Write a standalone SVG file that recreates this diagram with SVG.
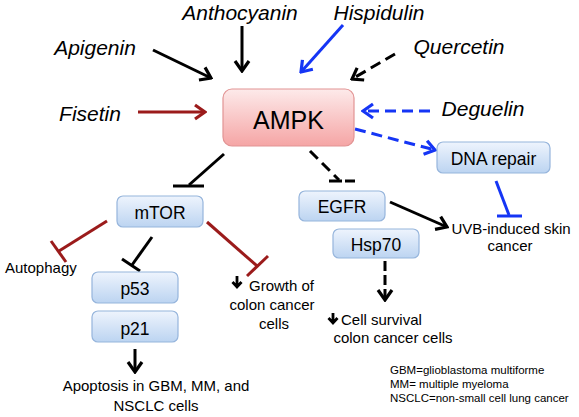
<svg xmlns="http://www.w3.org/2000/svg" width="579" height="417" viewBox="0 0 579 417">
<defs>
<linearGradient id="gBlue" x1="0" y1="0" x2="0" y2="1"><stop offset="0" stop-color="#eef4fd"/><stop offset="1" stop-color="#bcd4f1"/></linearGradient>
<linearGradient id="gPink" x1="0" y1="0" x2="0" y2="1"><stop offset="0" stop-color="#fdeaea"/><stop offset="1" stop-color="#f5a5a5"/></linearGradient>
<marker id="ahK" viewBox="0 0 14 18" refX="12" refY="9" markerWidth="14" markerHeight="18" markerUnits="userSpaceOnUse" orient="auto"><path d="M2,2 L12,9 L2,16" fill="none" stroke="#000" stroke-width="3.2"/></marker>
<marker id="ahR" viewBox="0 0 14 18" refX="12" refY="9" markerWidth="14" markerHeight="18" markerUnits="userSpaceOnUse" orient="auto"><path d="M2,2 L12,9 L2,16" fill="none" stroke="#9b1b1b" stroke-width="3.2"/></marker>
<marker id="ahB" viewBox="0 0 14 18" refX="12" refY="9" markerWidth="14" markerHeight="18" markerUnits="userSpaceOnUse" orient="auto"><path d="M2,2 L12,9 L2,16" fill="none" stroke="#1535f5" stroke-width="3.2"/></marker>
<style>
.lab{font-family:"Liberation Sans",Arial,sans-serif;font-style:italic;font-size:21px;fill:#000}
.bt{font-family:"Liberation Sans",Arial,sans-serif;font-size:17.5px;fill:#000;text-anchor:middle}
.sm{font-family:"Liberation Sans",Arial,sans-serif;font-size:15px;fill:#000}
.lg{font-family:"Liberation Sans",Arial,sans-serif;font-size:11.5px;fill:#000}
.bbox{fill:url(#gBlue);stroke:#96b5dc;stroke-width:1.2}
.pbox{fill:url(#gPink);stroke:#e29494;stroke-width:1.2}
.k{stroke:#000;stroke-width:3;fill:none}
.r{stroke:#9b1b1b;stroke-width:3;fill:none}
.b{stroke:#1535f5;stroke-width:3;fill:none}
.d{stroke-dasharray:11 6}
</style>
</defs>

<g id="labels">
<text class="lab" x="240" y="20" text-anchor="middle">Anthocyanin</text>
<text class="lab" x="379" y="20" text-anchor="middle">Hispidulin</text>
<text class="lab" x="95" y="55" text-anchor="middle">Apigenin</text>
<text class="lab" x="459" y="54" text-anchor="middle">Quercetin</text>
<text class="lab" x="90" y="121" text-anchor="middle">Fisetin</text>
<text class="lab" x="483" y="116" text-anchor="middle">Deguelin</text>
</g>

<g id="connectors">
<line class="k" x1="242" y1="26" x2="242" y2="71" marker-end="url(#ahK)"/>
<line class="k" x1="153" y1="50" x2="211" y2="78" marker-end="url(#ahK)"/>
<line class="r" x1="138" y1="112" x2="205" y2="112" marker-end="url(#ahR)"/>
<line class="b" x1="343" y1="25" x2="301" y2="72" marker-end="url(#ahB)"/>
<line class="k d" x1="395" y1="54" x2="352" y2="79" marker-end="url(#ahK)"/>
<line class="b d" x1="430" y1="111" x2="363" y2="111" marker-end="url(#ahB)"/>
<line class="b d" x1="355" y1="129" x2="435" y2="150" marker-end="url(#ahB)"/>
<line class="k" x1="224" y1="154" x2="189" y2="185"/>
<line class="k" x1="173" y1="186" x2="204" y2="186"/>
<line class="k d" x1="310" y1="151" x2="339" y2="180"/>
<line class="k" x1="329" y1="181" x2="355" y2="181" stroke-dasharray="13 3"/>
<line class="k" x1="390" y1="202" x2="447" y2="227" marker-end="url(#ahK)"/>
<line class="b" x1="496" y1="181" x2="509" y2="215"/>
<line class="b" x1="497" y1="216" x2="522" y2="216"/>
<line class="r" x1="107" y1="221" x2="59" y2="251"/>
<line class="r" x1="51" y1="241" x2="66" y2="262"/>
<line class="k" x1="152" y1="237" x2="132" y2="265"/>
<line class="k" x1="122" y1="259" x2="140" y2="271"/>
<line class="r" x1="207" y1="222" x2="257" y2="266"/>
<line class="r" x1="247" y1="276" x2="268" y2="256"/>
<line class="k" x1="135" y1="349" x2="135" y2="372" marker-end="url(#ahK)"/>
<line class="k" x1="385" y1="261" x2="385" y2="300" stroke-dasharray="10 4" marker-end="url(#ahK)"/>
<path d="M237,276 V287 M232.5,282 L237,287 L241.5,282" stroke="#000" stroke-width="2.8" fill="none"/>
<path d="M333,313 V323 M328.5,318 L333,323 L337.5,318" stroke="#000" stroke-width="2.8" fill="none"/>
</g>

<g id="AMPK">
<rect class="pbox" x="223" y="89" width="131" height="57" rx="9"/>
<text x="288.5" y="129" text-anchor="middle" font-family="Liberation Sans, Arial, sans-serif" font-size="25" fill="#000">AMPK</text>
</g>
<g id="DNArepair">
<rect class="bbox" x="437" y="142" width="113" height="31" rx="6"/>
<text class="bt" x="493.5" y="165">DNA repair</text>
</g>
<g id="EGFR">
<rect class="bbox" x="299" y="191" width="86" height="30" rx="6"/>
<text class="bt" x="342" y="213">EGFR</text>
</g>
<g id="Hsp70">
<rect class="bbox" x="333" y="229" width="86" height="29" rx="6"/>
<text class="bt" x="376" y="251">Hsp70</text>
</g>
<g id="mTOR">
<rect class="bbox" x="117" y="196" width="86" height="31" rx="6"/>
<text class="bt" x="160" y="219">mTOR</text>
</g>
<g id="p53">
<rect class="bbox" x="92" y="272" width="86" height="31" rx="6"/>
<text class="bt" x="135" y="295">p53</text>
</g>
<g id="p21">
<rect class="bbox" x="92" y="311" width="86" height="31" rx="6"/>
<text class="bt" x="135" y="335">p21</text>
</g>

<g id="outcomes">
<text class="sm" x="5" y="273">Autophagy</text>
<text class="sm" x="249" y="291">Growth of</text>
<text class="sm" x="272" y="310" text-anchor="middle">colon cancer</text>
<text class="sm" x="274" y="329" text-anchor="middle">cells</text>
<text class="sm" x="511" y="234" text-anchor="middle">UVB-induced skin</text>
<text class="sm" x="510" y="251" text-anchor="middle">cancer</text>
<text class="sm" x="341" y="325">Cell survival</text>
<text class="sm" x="393" y="343" text-anchor="middle">colon cancer cells</text>
<text class="sm" x="156" y="391" text-anchor="middle">Apoptosis in GBM, MM, and</text>
<text class="sm" x="156" y="411" text-anchor="middle">NSCLC cells</text>
</g>

<g id="legend">
<text class="lg" x="390" y="374">GBM=glioblastoma multiforme</text>
<text class="lg" x="390" y="388">MM= multiple myeloma</text>
<text class="lg" x="390" y="402">NSCLC=non-small cell lung cancer</text>
</g>
</svg>
